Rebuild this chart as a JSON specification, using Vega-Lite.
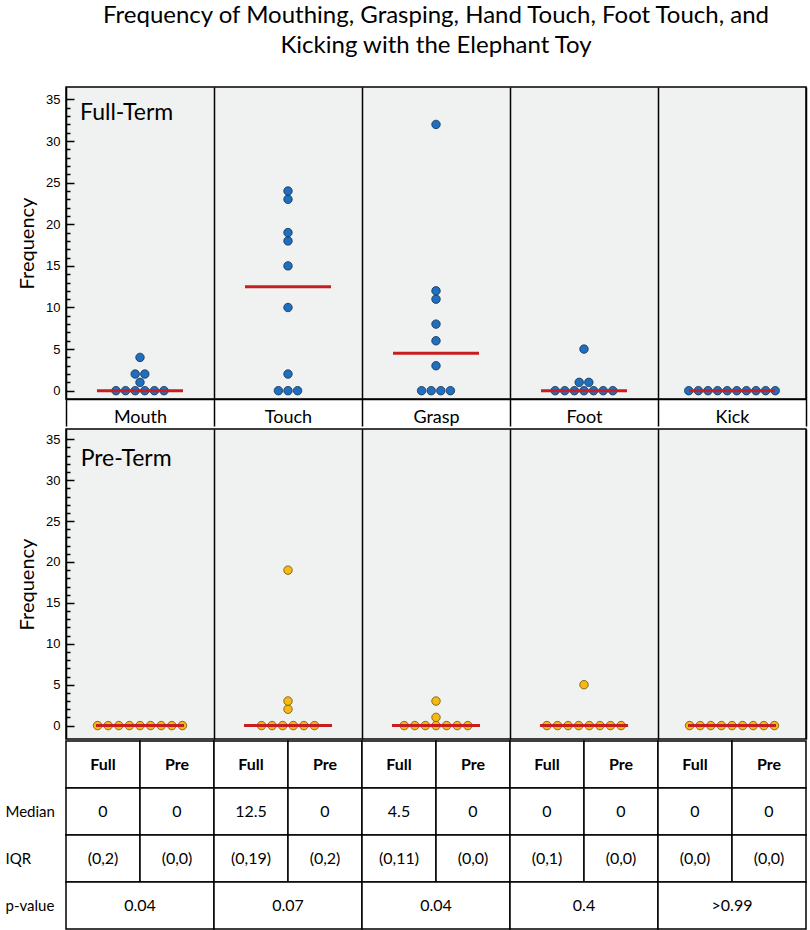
{
  "$schema": "https://vega.github.io/schema/vega-lite/v6.json",
  "padding": {"left": 5, "right": 0, "top": 4, "bottom": 0},
  "background": "white",
  "spacing": 0,
  "title": {
    "text": ["Frequency of Mouthing, Grasping, Hand Touch, Foot Touch, and", "Kicking with the Elephant Toy"],
    "font": "Lato", "fontSize": 24, "fontWeight": "normal", "color": "black",
    "lineHeight": 30, "anchor": "middle", "baseline": "top", "offset": 28, "frame": "group"
  },
  "config": {
    "font": "Lato",
    "view": {"stroke": "black", "strokeWidth": 1.5}
  },
  "datasets": {
    "dots": [
      {"term": "Full", "behavior": "Mouth", "value": 0}, {"term": "Full", "behavior": "Mouth", "value": 0}, {"term": "Full", "behavior": "Mouth", "value": 0}, {"term": "Full", "behavior": "Mouth", "value": 0}, {"term": "Full", "behavior": "Mouth", "value": 0}, {"term": "Full", "behavior": "Mouth", "value": 0}, {"term": "Full", "behavior": "Mouth", "value": 1}, {"term": "Full", "behavior": "Mouth", "value": 2}, {"term": "Full", "behavior": "Mouth", "value": 2}, {"term": "Full", "behavior": "Mouth", "value": 4},
      {"term": "Full", "behavior": "Touch", "value": 0}, {"term": "Full", "behavior": "Touch", "value": 0}, {"term": "Full", "behavior": "Touch", "value": 0}, {"term": "Full", "behavior": "Touch", "value": 2}, {"term": "Full", "behavior": "Touch", "value": 10}, {"term": "Full", "behavior": "Touch", "value": 15}, {"term": "Full", "behavior": "Touch", "value": 18}, {"term": "Full", "behavior": "Touch", "value": 19}, {"term": "Full", "behavior": "Touch", "value": 23}, {"term": "Full", "behavior": "Touch", "value": 24},
      {"term": "Full", "behavior": "Grasp", "value": 0}, {"term": "Full", "behavior": "Grasp", "value": 0}, {"term": "Full", "behavior": "Grasp", "value": 0}, {"term": "Full", "behavior": "Grasp", "value": 0}, {"term": "Full", "behavior": "Grasp", "value": 3}, {"term": "Full", "behavior": "Grasp", "value": 6}, {"term": "Full", "behavior": "Grasp", "value": 8}, {"term": "Full", "behavior": "Grasp", "value": 11}, {"term": "Full", "behavior": "Grasp", "value": 12}, {"term": "Full", "behavior": "Grasp", "value": 32},
      {"term": "Full", "behavior": "Foot", "value": 0}, {"term": "Full", "behavior": "Foot", "value": 0}, {"term": "Full", "behavior": "Foot", "value": 0}, {"term": "Full", "behavior": "Foot", "value": 0}, {"term": "Full", "behavior": "Foot", "value": 0}, {"term": "Full", "behavior": "Foot", "value": 0}, {"term": "Full", "behavior": "Foot", "value": 0}, {"term": "Full", "behavior": "Foot", "value": 1}, {"term": "Full", "behavior": "Foot", "value": 1}, {"term": "Full", "behavior": "Foot", "value": 5},
      {"term": "Full", "behavior": "Kick", "value": 0}, {"term": "Full", "behavior": "Kick", "value": 0}, {"term": "Full", "behavior": "Kick", "value": 0}, {"term": "Full", "behavior": "Kick", "value": 0}, {"term": "Full", "behavior": "Kick", "value": 0}, {"term": "Full", "behavior": "Kick", "value": 0}, {"term": "Full", "behavior": "Kick", "value": 0}, {"term": "Full", "behavior": "Kick", "value": 0}, {"term": "Full", "behavior": "Kick", "value": 0}, {"term": "Full", "behavior": "Kick", "value": 0},
      {"term": "Pre", "behavior": "Mouth", "value": 0}, {"term": "Pre", "behavior": "Mouth", "value": 0}, {"term": "Pre", "behavior": "Mouth", "value": 0}, {"term": "Pre", "behavior": "Mouth", "value": 0}, {"term": "Pre", "behavior": "Mouth", "value": 0}, {"term": "Pre", "behavior": "Mouth", "value": 0}, {"term": "Pre", "behavior": "Mouth", "value": 0}, {"term": "Pre", "behavior": "Mouth", "value": 0}, {"term": "Pre", "behavior": "Mouth", "value": 0},
      {"term": "Pre", "behavior": "Touch", "value": 0}, {"term": "Pre", "behavior": "Touch", "value": 0}, {"term": "Pre", "behavior": "Touch", "value": 0}, {"term": "Pre", "behavior": "Touch", "value": 0}, {"term": "Pre", "behavior": "Touch", "value": 0}, {"term": "Pre", "behavior": "Touch", "value": 0}, {"term": "Pre", "behavior": "Touch", "value": 2}, {"term": "Pre", "behavior": "Touch", "value": 3}, {"term": "Pre", "behavior": "Touch", "value": 19},
      {"term": "Pre", "behavior": "Grasp", "value": 0}, {"term": "Pre", "behavior": "Grasp", "value": 0}, {"term": "Pre", "behavior": "Grasp", "value": 0}, {"term": "Pre", "behavior": "Grasp", "value": 0}, {"term": "Pre", "behavior": "Grasp", "value": 0}, {"term": "Pre", "behavior": "Grasp", "value": 0}, {"term": "Pre", "behavior": "Grasp", "value": 0}, {"term": "Pre", "behavior": "Grasp", "value": 1}, {"term": "Pre", "behavior": "Grasp", "value": 3},
      {"term": "Pre", "behavior": "Foot", "value": 0}, {"term": "Pre", "behavior": "Foot", "value": 0}, {"term": "Pre", "behavior": "Foot", "value": 0}, {"term": "Pre", "behavior": "Foot", "value": 0}, {"term": "Pre", "behavior": "Foot", "value": 0}, {"term": "Pre", "behavior": "Foot", "value": 0}, {"term": "Pre", "behavior": "Foot", "value": 0}, {"term": "Pre", "behavior": "Foot", "value": 0}, {"term": "Pre", "behavior": "Foot", "value": 5},
      {"term": "Pre", "behavior": "Kick", "value": 0}, {"term": "Pre", "behavior": "Kick", "value": 0}, {"term": "Pre", "behavior": "Kick", "value": 0}, {"term": "Pre", "behavior": "Kick", "value": 0}, {"term": "Pre", "behavior": "Kick", "value": 0}, {"term": "Pre", "behavior": "Kick", "value": 0}, {"term": "Pre", "behavior": "Kick", "value": 0}, {"term": "Pre", "behavior": "Kick", "value": 0}, {"term": "Pre", "behavior": "Kick", "value": 0}
    ],
    "table": [
      {"row": "hdr", "behavior": "Mouth", "group": "Full", "text": "Full"}, {"row": "hdr", "behavior": "Mouth", "group": "Pre", "text": "Pre"},
      {"row": "hdr", "behavior": "Touch", "group": "Full", "text": "Full"}, {"row": "hdr", "behavior": "Touch", "group": "Pre", "text": "Pre"},
      {"row": "hdr", "behavior": "Grasp", "group": "Full", "text": "Full"}, {"row": "hdr", "behavior": "Grasp", "group": "Pre", "text": "Pre"},
      {"row": "hdr", "behavior": "Foot", "group": "Full", "text": "Full"}, {"row": "hdr", "behavior": "Foot", "group": "Pre", "text": "Pre"},
      {"row": "hdr", "behavior": "Kick", "group": "Full", "text": "Full"}, {"row": "hdr", "behavior": "Kick", "group": "Pre", "text": "Pre"},
      {"row": "Median", "behavior": "Mouth", "group": "Full", "text": "0"}, {"row": "Median", "behavior": "Mouth", "group": "Pre", "text": "0"},
      {"row": "Median", "behavior": "Touch", "group": "Full", "text": "12.5"}, {"row": "Median", "behavior": "Touch", "group": "Pre", "text": "0"},
      {"row": "Median", "behavior": "Grasp", "group": "Full", "text": "4.5"}, {"row": "Median", "behavior": "Grasp", "group": "Pre", "text": "0"},
      {"row": "Median", "behavior": "Foot", "group": "Full", "text": "0"}, {"row": "Median", "behavior": "Foot", "group": "Pre", "text": "0"},
      {"row": "Median", "behavior": "Kick", "group": "Full", "text": "0"}, {"row": "Median", "behavior": "Kick", "group": "Pre", "text": "0"},
      {"row": "IQR", "behavior": "Mouth", "group": "Full", "text": "(0,2)"}, {"row": "IQR", "behavior": "Mouth", "group": "Pre", "text": "(0,0)"},
      {"row": "IQR", "behavior": "Touch", "group": "Full", "text": "(0,19)"}, {"row": "IQR", "behavior": "Touch", "group": "Pre", "text": "(0,2)"},
      {"row": "IQR", "behavior": "Grasp", "group": "Full", "text": "(0,11)"}, {"row": "IQR", "behavior": "Grasp", "group": "Pre", "text": "(0,0)"},
      {"row": "IQR", "behavior": "Foot", "group": "Full", "text": "(0,1)"}, {"row": "IQR", "behavior": "Foot", "group": "Pre", "text": "(0,0)"},
      {"row": "IQR", "behavior": "Kick", "group": "Full", "text": "(0,0)"}, {"row": "IQR", "behavior": "Kick", "group": "Pre", "text": "(0,0)"},
      {"row": "p-value", "behavior": "Mouth", "text": "0.04"},
      {"row": "p-value", "behavior": "Touch", "text": "0.07"},
      {"row": "p-value", "behavior": "Grasp", "text": "0.04"},
      {"row": "p-value", "behavior": "Foot", "text": "0.4"},
      {"row": "p-value", "behavior": "Kick", "text": ">0.99"}
    ]
  },
  "vconcat": [
    {
      "width": 740, "height": 312,
      "view": {"fill": "#f0f1f1", "stroke": "black", "strokeWidth": 1.5},
      "layer": [
        {
          "data": {"name": "dots"},
          "transform": [
            {"filter": "datum.term === 'Full'"},
            {"window": [{"op": "row_number", "as": "k"}], "groupby": ["behavior", "value"]},
            {"joinaggregate": [{"op": "count", "as": "n"}], "groupby": ["behavior", "value"]},
            {"calculate": "datum.k - (datum.n + 1) / 2", "as": "off"}
          ],
          "mark": {"type": "circle", "size": 72, "opacity": 1, "fill": "#1f6fc1", "stroke": "#17304f", "strokeWidth": 0.8},
          "encoding": {
            "x": {"field": "behavior", "type": "nominal",
              "scale": {"domain": ["Mouth", "Touch", "Grasp", "Foot", "Kick"], "paddingInner": 0, "paddingOuter": 0},
              "axis": {"title": null, "orient": "bottom", "tickBand": "extent", "ticks": true, "tickSize": 27, "tickColor": "black", "tickWidth": 1.5,
                "grid": true, "gridColor": "black", "gridWidth": 1.5, "gridOpacity": 1,
                "domain": true, "domainColor": "black", "domainWidth": 1.5,
                "labelFont": "Lato", "labelFontSize": 18, "labelColor": "black", "labelPadding": -4, "labelBaseline": "alphabetic", "labelAngle": 0}},
            "xOffset": {"field": "off", "type": "quantitative", "scale": {"domain": [-7.7, 7.7], "range": [0, 148]}},
            "y": {"field": "value", "type": "quantitative", "scale": {"domain": [-1, 36.5], "nice": false, "zero": false},
              "axis": {"title": "Frequency", "titleFont": "Lato", "titleFontSize": 20, "titleFontWeight": "normal", "titleColor": "black", "titlePadding": 8,
                "values": [0,1,2,3,4,5,6,7,8,9,10,11,12,13,14,15,16,17,18,19,20,21,22,23,24,25,26,27,28,29,30,31,32,33,34,35],
                "tickCount": 60, "format": "d",
                "labelExpr": "datum.value % 5 === 0 ? datum.label : ''", "labelOverlap": false,
                "labelFont": "Liberation Sans", "labelFontSize": 13, "labelColor": "black", "labelPadding": 14,
                "ticks": true, "tickColor": "black", "tickWidth": 1.5, "tickOpacity": 1,
                "tickSize": -8,
                "tickDash": {"condition": {"test": "datum.value % 5 === 0", "value": [8, 0]}, "value": [4, 20]},
                "domain": false, "grid": false}}
          }
        },
        {
          "data": {"name": "dots"},
          "transform": [{"filter": "datum.term === 'Full'"}],
          "mark": {"type": "tick", "color": "#c81e1e", "thickness": 3, "size": 86, "opacity": 1},
          "encoding": {
            "x": {"field": "behavior", "type": "nominal"},
            "y": {"field": "value", "aggregate": "median", "type": "quantitative"}
          }
        },
        {
          "data": {"values": [{"label": "Full-Term", "behavior": "Mouth"}]},
          "mark": {"type": "text", "align": "left", "baseline": "alphabetic", "font": "Lato", "fontSize": 23, "color": "black"},
          "encoding": {
            "x": {"field": "behavior", "type": "nominal"},
            "xOffset": {"datum": -6.24},
            "y": {"datum": 32.5},
            "text": {"field": "label"}
          }
        }
      ]
    },
    {
      "width": 740, "height": 310,
      "view": {"fill": "#f0f1f1", "stroke": "black", "strokeWidth": 1.5},
      "layer": [
        {
          "data": {"name": "dots"},
          "transform": [
            {"filter": "datum.term === 'Pre'"},
            {"window": [{"op": "row_number", "as": "k"}], "groupby": ["behavior", "value"]},
            {"joinaggregate": [{"op": "count", "as": "n"}], "groupby": ["behavior", "value"]},
            {"calculate": "datum.k - (datum.n + 1) / 2", "as": "off"}
          ],
          "mark": {"type": "circle", "size": 72, "opacity": 1, "fill": "#f6b817", "stroke": "#6e5200", "strokeWidth": 0.8},
          "encoding": {
            "x": {"field": "behavior", "type": "nominal",
              "scale": {"domain": ["Mouth", "Touch", "Grasp", "Foot", "Kick"], "paddingInner": 0, "paddingOuter": 0},
              "axis": {"title": null, "orient": "bottom", "tickBand": "extent", "ticks": false, "labels": false, "domain": false,
                "grid": true, "gridColor": "black", "gridWidth": 1.5, "gridOpacity": 1}},
            "xOffset": {"field": "off", "type": "quantitative", "scale": {"domain": [-6.98, 6.98], "range": [0, 148]}},
            "y": {"field": "value", "type": "quantitative", "scale": {"domain": [-1.64, 36.26], "nice": false, "zero": false},
              "axis": {"title": "Frequency", "titleFont": "Lato", "titleFontSize": 20, "titleFontWeight": "normal", "titleColor": "black", "titlePadding": 8,
                "values": [0,1,2,3,4,5,6,7,8,9,10,11,12,13,14,15,16,17,18,19,20,21,22,23,24,25,26,27,28,29,30,31,32,33,34,35],
                "tickCount": 60, "format": "d",
                "labelExpr": "datum.value % 5 === 0 ? datum.label : ''", "labelOverlap": false,
                "labelFont": "Liberation Sans", "labelFontSize": 13, "labelColor": "black", "labelPadding": 14,
                "ticks": true, "tickColor": "black", "tickWidth": 1.5, "tickOpacity": 1,
                "tickSize": -8,
                "tickDash": {"condition": {"test": "datum.value % 5 === 0", "value": [8, 0]}, "value": [4, 20]},
                "domain": false, "grid": false}}
          }
        },
        {
          "data": {"name": "dots"},
          "transform": [{"filter": "datum.term === 'Pre'"}],
          "mark": {"type": "tick", "color": "#c81e1e", "thickness": 3, "size": 88, "opacity": 1},
          "encoding": {
            "x": {"field": "behavior", "type": "nominal"},
            "y": {"field": "value", "aggregate": "median", "type": "quantitative"}
          }
        },
        {
          "data": {"values": [{"label": "Pre-Term", "behavior": "Mouth"}]},
          "mark": {"type": "text", "align": "left", "baseline": "alphabetic", "font": "Lato", "fontSize": 23, "color": "black"},
          "encoding": {
            "x": {"field": "behavior", "type": "nominal"},
            "xOffset": {"datum": -5.6},
            "y": {"datum": 31.7},
            "text": {"field": "label"}
          }
        }
      ]
    },
    {
      "data": {"name": "table"},
      "width": 740, "height": 188,
      "view": {"stroke": null},
      "encoding": {
        "x": {"field": "behavior", "type": "nominal", "scale": {"domain": ["Mouth", "Touch", "Grasp", "Foot", "Kick"], "paddingInner": 0, "paddingOuter": 0}, "axis": null},
        "y": {"field": "row", "type": "nominal", "scale": {"domain": ["hdr", "Median", "IQR", "p-value"], "paddingInner": 0, "paddingOuter": 0},
          "axis": {"title": null, "labelExpr": "datum.value === 'hdr' ? '' : datum.value", "labelAlign": "left", "labelPadding": 61,
            "ticks": false, "tickSize": 0, "domain": false, "labelFont": "Lato", "labelFontSize": 15, "labelColor": "black"}}
      },
      "layer": [
        {
          "transform": [{"filter": "datum.row !== 'p-value'"}],
          "mark": {"type": "rect", "fill": "white", "stroke": "black", "strokeWidth": 1.5},
          "encoding": {"xOffset": {"field": "group", "type": "nominal", "scale": {"domain": ["Full", "Pre"], "paddingInner": 0, "paddingOuter": 0}}}
        },
        {
          "transform": [{"filter": "datum.row === 'p-value'"}],
          "mark": {"type": "rect", "fill": "white", "stroke": "black", "strokeWidth": 1.5}
        },
        {
          "transform": [{"filter": "datum.row === 'hdr'"}],
          "mark": {"type": "text", "font": "Lato", "fontSize": 16, "fontWeight": "bold", "color": "black"},
          "encoding": {"xOffset": {"field": "group", "type": "nominal"}, "text": {"field": "text"}}
        },
        {
          "transform": [{"filter": "datum.row === 'Median' || datum.row === 'IQR'"}],
          "mark": {"type": "text", "font": "Lato", "fontSize": 16, "color": "black"},
          "encoding": {"xOffset": {"field": "group", "type": "nominal"}, "text": {"field": "text"}}
        },
        {
          "transform": [{"filter": "datum.row === 'p-value'"}],
          "mark": {"type": "text", "font": "Lato", "fontSize": 16, "color": "black"},
          "encoding": {"text": {"field": "text"}}
        }
      ]
    }
  ]
}
